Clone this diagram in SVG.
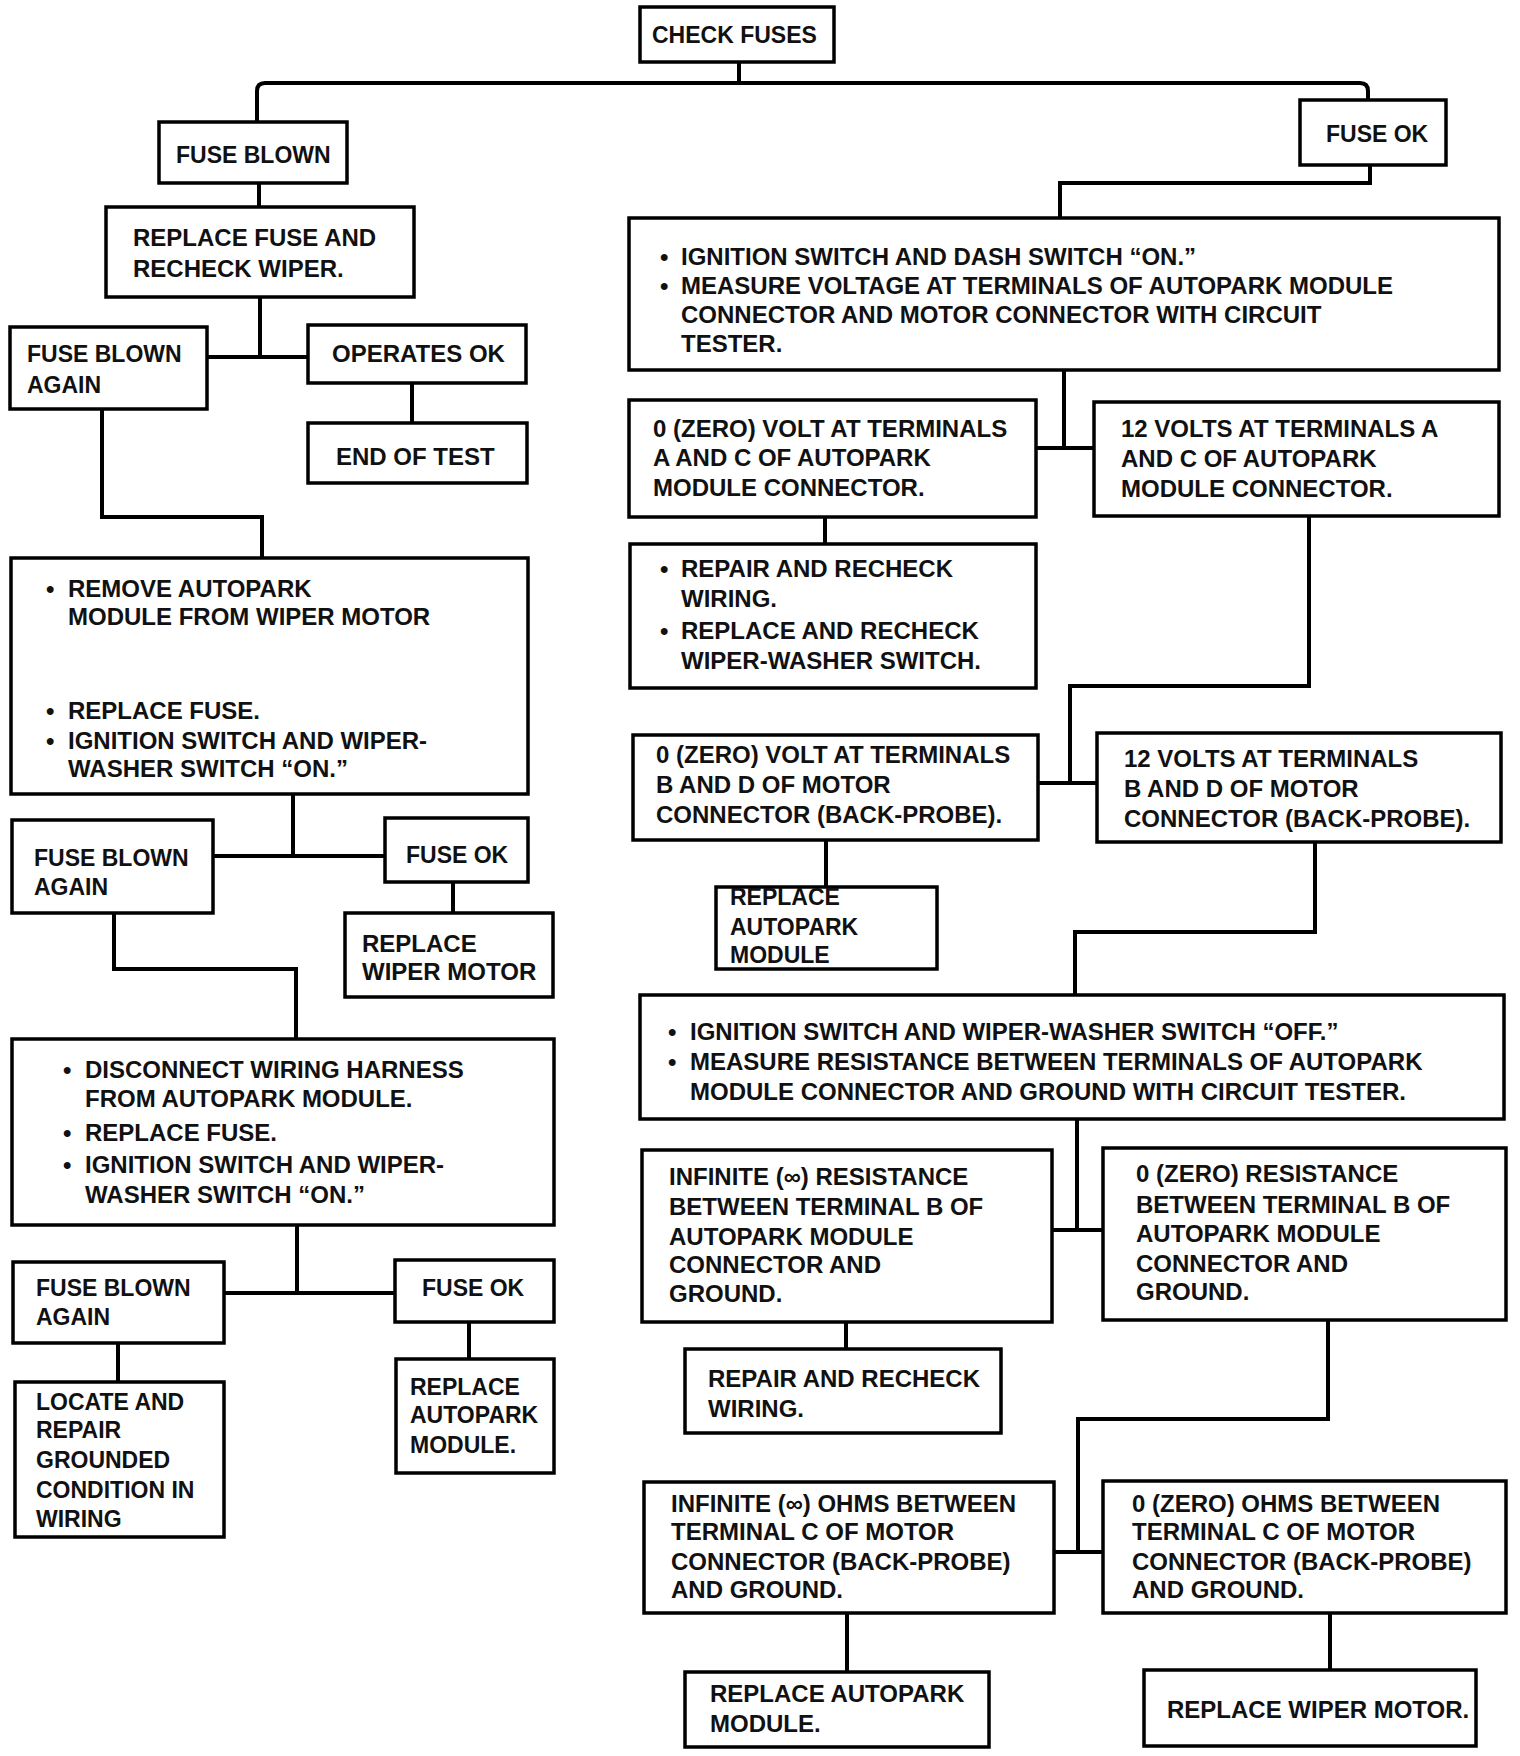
<svg xmlns="http://www.w3.org/2000/svg" width="1520" height="1756" viewBox="0 0 1520 1756">
<style>
.b{fill:#fff;stroke:#000;stroke-width:3.5}
.t{font-family:"Liberation Sans",Arial,sans-serif;font-size:24px;font-weight:bold;fill:#111}
.s{font-size:23px}
.c{fill:none;stroke:#000;stroke-width:4}
</style>
<rect width="1520" height="1756" fill="#fff"/>
<g id="connectors" class="c">
<path d="M739,62 V83"/>
<path d="M257,122 V91 Q257,83 265,83 H1360 Q1368,83 1368,91 V100"/>
<path d="M1370,165 V183 H1060 V218"/>
<path d="M259,183 V207"/>
<path d="M260,297 V357 M207,357 H308"/>
<path d="M412,383 V423"/>
<path d="M102,409 V517 H262 V558"/>
<path d="M293,794 V856 M213,856 H385"/>
<path d="M453,882 V913"/>
<path d="M114,913 V969 H296 V1039"/>
<path d="M297,1225 V1293 M224,1293 H395"/>
<path d="M118,1343 V1382"/>
<path d="M469,1322 V1359"/>
<path d="M1064,370 V448 M1036,448 H1094"/>
<path d="M825,517 V544"/>
<path d="M1309,516 V686 H1070 V783 M1038,783 H1097"/>
<path d="M826,840 V887"/>
<path d="M1315,842 V932 H1075 V995"/>
<path d="M1077,1119 V1230 M1052,1230 H1103"/>
<path d="M846,1322 V1349"/>
<path d="M1328,1320 V1419 H1078 V1552 M1054,1552 H1103"/>
<path d="M847,1613 V1672"/>
<path d="M1330,1613 V1670"/>
</g>
<g id="n-check"><rect class="b" x="640" y="7" width="194" height="55"/><text class="t s" x="652" y="43">CHECK FUSES</text></g>
<g id="n-blown1"><rect class="b" x="159" y="122" width="188" height="61"/><text class="t s" x="176" y="163">FUSE BLOWN</text></g>
<g id="n-fuseok1"><rect class="b" x="1300" y="100" width="146" height="65"/><text class="t s" x="1326" y="142">FUSE OK</text></g>
<g id="n-replace-fuse"><rect class="b" x="106" y="207" width="308" height="90"/><text class="t" x="133" y="246">REPLACE FUSE AND</text><text class="t" x="133" y="277">RECHECK WIPER.</text></g>
<g id="n-blown-again1"><rect class="b" x="10" y="327" width="197" height="82"/><text class="t s" x="27" y="362">FUSE BLOWN</text><text class="t s" x="27" y="393">AGAIN</text></g>
<g id="n-operates"><rect class="b" x="308" y="325" width="218" height="58"/><text class="t" x="332" y="362">OPERATES OK</text></g>
<g id="n-end"><rect class="b" x="308" y="423" width="219" height="60"/><text class="t" x="336" y="465">END OF TEST</text></g>
<g id="n-remove"><rect class="b" x="11" y="558" width="517" height="236"/>
<text class="t" x="46" y="597">•</text><text class="t" x="68" y="597">REMOVE AUTOPARK</text>
<text class="t" x="68" y="625">MODULE FROM WIPER MOTOR</text>
<text class="t" x="46" y="719">•</text><text class="t" x="68" y="719">REPLACE FUSE.</text>
<text class="t" x="46" y="749">•</text><text class="t" x="68" y="749">IGNITION SWITCH AND WIPER-</text>
<text class="t" x="68" y="777">WASHER SWITCH “ON.”</text></g>
<g id="n-blown-again2"><rect class="b" x="12" y="820" width="201" height="93"/><text class="t s" x="34" y="866">FUSE BLOWN</text><text class="t s" x="34" y="895">AGAIN</text></g>
<g id="n-fuseok2"><rect class="b" x="385" y="818" width="143" height="64"/><text class="t s" x="406" y="863">FUSE OK</text></g>
<g id="n-replace-wiper"><rect class="b" x="345" y="913" width="208" height="84"/><text class="t" x="362" y="952">REPLACE</text><text class="t" x="362" y="980">WIPER MOTOR</text></g>
<g id="n-disconnect"><rect class="b" x="12" y="1039" width="542" height="186"/>
<text class="t" x="63" y="1078">•</text><text class="t" x="85" y="1078">DISCONNECT WIRING HARNESS</text>
<text class="t" x="85" y="1107">FROM AUTOPARK MODULE.</text>
<text class="t" x="63" y="1141">•</text><text class="t" x="85" y="1141">REPLACE FUSE.</text>
<text class="t" x="63" y="1173">•</text><text class="t" x="85" y="1173">IGNITION SWITCH AND WIPER-</text>
<text class="t" x="85" y="1203">WASHER SWITCH “ON.”</text></g>
<g id="n-blown-again3"><rect class="b" x="13" y="1262" width="211" height="81"/><text class="t s" x="36" y="1296">FUSE BLOWN</text><text class="t s" x="36" y="1325">AGAIN</text></g>
<g id="n-fuseok3"><rect class="b" x="395" y="1260" width="159" height="62"/><text class="t s" x="422" y="1296">FUSE OK</text></g>
<g id="n-locate"><rect class="b" x="15" y="1382" width="209" height="155"/>
<text class="t s" x="36" y="1410">LOCATE AND</text><text class="t s" x="36" y="1438">REPAIR</text><text class="t s" x="36" y="1468">GROUNDED</text><text class="t s" x="36" y="1498">CONDITION IN</text><text class="t s" x="36" y="1527">WIRING</text></g>
<g id="n-replace-ap-left"><rect class="b" x="396" y="1359" width="158" height="114"/>
<text class="t s" x="410" y="1395">REPLACE</text><text class="t s" x="410" y="1423">AUTOPARK</text><text class="t s" x="410" y="1453">MODULE.</text></g>
<g id="n-ign1"><rect class="b" x="629" y="218" width="870" height="152"/>
<text class="t" x="660" y="265">•</text><text class="t" x="681" y="265">IGNITION SWITCH AND DASH SWITCH “ON.”</text>
<text class="t" x="660" y="294">•</text><text class="t" x="681" y="294">MEASURE VOLTAGE AT TERMINALS OF AUTOPARK MODULE</text>
<text class="t" x="681" y="323">CONNECTOR AND MOTOR CONNECTOR WITH CIRCUIT</text>
<text class="t" x="681" y="352">TESTER.</text></g>
<g id="n-zero-ac"><rect class="b" x="629" y="400" width="407" height="117"/>
<text class="t" x="653" y="437">0 (ZERO) VOLT AT TERMINALS</text><text class="t" x="653" y="466">A AND C OF AUTOPARK</text><text class="t" x="653" y="496">MODULE CONNECTOR.</text></g>
<g id="n-12-ac"><rect class="b" x="1094" y="402" width="405" height="114"/>
<text class="t" x="1121" y="437">12 VOLTS AT TERMINALS A</text><text class="t" x="1121" y="467">AND C OF AUTOPARK</text><text class="t" x="1121" y="497">MODULE CONNECTOR.</text></g>
<g id="n-repair"><rect class="b" x="630" y="544" width="406" height="144"/>
<text class="t" x="660" y="577">•</text><text class="t" x="681" y="577">REPAIR AND RECHECK</text>
<text class="t" x="681" y="607">WIRING.</text>
<text class="t" x="660" y="639">•</text><text class="t" x="681" y="639">REPLACE AND RECHECK</text>
<text class="t" x="681" y="669">WIPER-WASHER SWITCH.</text></g>
<g id="n-zero-bd"><rect class="b" x="633" y="735" width="405" height="105"/>
<text class="t" x="656" y="763">0 (ZERO) VOLT AT TERMINALS</text><text class="t" x="656" y="793">B AND D OF MOTOR</text><text class="t" x="656" y="823">CONNECTOR (BACK-PROBE).</text></g>
<g id="n-12-bd"><rect class="b" x="1097" y="733" width="404" height="109"/>
<text class="t" x="1124" y="767">12 VOLTS AT TERMINALS</text><text class="t" x="1124" y="797">B AND D OF MOTOR</text><text class="t" x="1124" y="827">CONNECTOR (BACK-PROBE).</text></g>
<g id="n-replace-ap-mid"><rect class="b" x="716" y="887" width="221" height="82"/>
<text class="t s" x="730" y="905">REPLACE</text><text class="t s" x="730" y="935">AUTOPARK</text><text class="t s" x="730" y="963">MODULE</text></g>
<g id="n-ign2"><rect class="b" x="640" y="995" width="864" height="124"/>
<text class="t" x="668" y="1040">•</text><text class="t" x="690" y="1040">IGNITION SWITCH AND WIPER-WASHER SWITCH “OFF.”</text>
<text class="t" x="668" y="1070">•</text><text class="t" x="690" y="1070">MEASURE RESISTANCE BETWEEN TERMINALS OF AUTOPARK</text>
<text class="t" x="690" y="1100">MODULE CONNECTOR AND GROUND WITH CIRCUIT TESTER.</text></g>
<g id="n-inf-res"><rect class="b" x="642" y="1150" width="410" height="172"/>
<text class="t" x="669" y="1185">INFINITE (∞) RESISTANCE</text><text class="t" x="669" y="1215">BETWEEN TERMINAL B OF</text><text class="t" x="669" y="1245">AUTOPARK MODULE</text><text class="t" x="669" y="1273">CONNECTOR AND</text><text class="t" x="669" y="1302">GROUND.</text></g>
<g id="n-zero-res"><rect class="b" x="1103" y="1148" width="403" height="172"/>
<text class="t" x="1136" y="1182">0 (ZERO) RESISTANCE</text><text class="t" x="1136" y="1213">BETWEEN TERMINAL B OF</text><text class="t" x="1136" y="1242">AUTOPARK MODULE</text><text class="t" x="1136" y="1272">CONNECTOR AND</text><text class="t" x="1136" y="1300">GROUND.</text></g>
<g id="n-repair-wiring"><rect class="b" x="685" y="1349" width="316" height="84"/>
<text class="t" x="708" y="1387">REPAIR AND RECHECK</text><text class="t" x="708" y="1417">WIRING.</text></g>
<g id="n-inf-ohms"><rect class="b" x="644" y="1482" width="410" height="131"/>
<text class="t" x="671" y="1512">INFINITE (∞) OHMS BETWEEN</text><text class="t" x="671" y="1540">TERMINAL C OF MOTOR</text><text class="t" x="671" y="1570">CONNECTOR (BACK-PROBE)</text><text class="t" x="671" y="1598">AND GROUND.</text></g>
<g id="n-zero-ohms"><rect class="b" x="1103" y="1481" width="403" height="132"/>
<text class="t" x="1132" y="1512">0 (ZERO) OHMS BETWEEN</text><text class="t" x="1132" y="1540">TERMINAL C OF MOTOR</text><text class="t" x="1132" y="1570">CONNECTOR (BACK-PROBE)</text><text class="t" x="1132" y="1598">AND GROUND.</text></g>
<g id="n-replace-ap-bottom"><rect class="b" x="685" y="1672" width="304" height="75"/>
<text class="t" x="710" y="1702">REPLACE AUTOPARK</text><text class="t" x="710" y="1732">MODULE.</text></g>
<g id="n-replace-wiper-bottom"><rect class="b" x="1144" y="1670" width="332" height="76"/>
<text class="t" x="1167" y="1718">REPLACE WIPER MOTOR.</text></g>
</svg>
